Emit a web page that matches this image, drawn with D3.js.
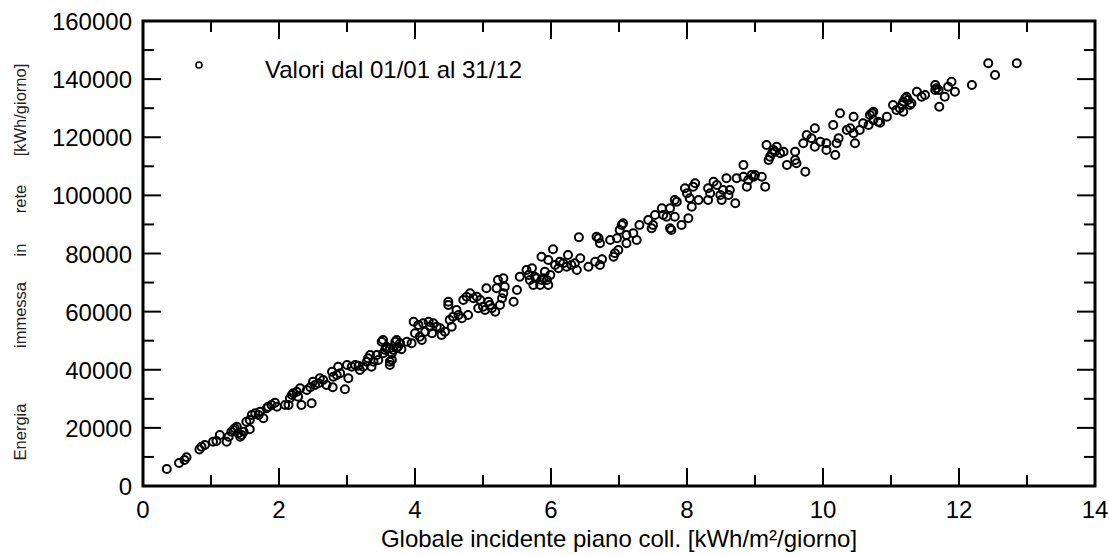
<!DOCTYPE html>
<html>
<head>
<meta charset="utf-8">
<script src="https://cdn.jsdelivr.net/npm/d3@7"></script>
<style>
  body { margin: 0; background: #fff; }
  svg text { font-family: "Liberation Sans", Arial, sans-serif; fill: #000; }
</style>
</head>
<body>
<svg id="chart" width="1109" height="555"></svg>
<script>
// irradiation on collector plane [kWh/m2/day]
const irradiation = [
  0.35, 0.53, 0.61, 0.64, 0.83, 0.86, 0.91, 1.03, 1.08, 1.13,
  1.23, 1.26, 1.30, 1.33, 1.35, 1.38, 1.40, 1.43, 1.45, 1.48,
  1.57, 1.52, 1.57, 1.60, 1.65, 1.70, 1.72, 1.77, 1.82, 1.84,
  1.89, 1.94, 1.97, 2.09, 2.14, 2.16, 2.19, 2.21, 2.26, 2.28,
  2.31, 2.33, 2.41, 2.46, 2.48, 2.50, 2.53, 2.58, 2.60, 2.65,
  2.70, 2.78, 2.80, 2.79, 2.85, 2.87, 2.90, 2.97, 3.00, 3.02,
  3.07, 3.12, 3.17, 3.19, 3.24, 3.29, 3.31, 3.34, 3.36, 3.39,
  3.44, 3.46, 3.51, 3.53, 3.56, 3.58, 3.63, 3.63, 3.66, 3.68,
  3.73, 3.75, 3.53, 3.58, 3.63, 3.66, 3.71, 3.73, 3.78, 3.80,
  3.88, 3.95, 3.98, 4.00, 4.05, 4.07, 4.10, 4.12, 4.15, 4.20,
  4.22, 4.25, 4.27, 4.32, 4.37, 4.39, 4.44, 4.49, 4.49, 4.51,
  4.54, 4.56, 4.61, 4.64, 4.69, 4.71, 4.76, 4.78, 4.81, 4.86,
  4.91, 4.93, 4.96, 5.00, 5.03, 5.05, 5.08, 5.10, 5.13, 5.18,
  5.20, 5.22, 5.25, 5.28, 5.30, 5.32, 5.30, 5.45, 5.50, 5.54,
  5.64, 5.67, 5.69, 5.72, 5.74, 5.76, 5.79, 5.84, 5.86, 5.89,
  5.91, 5.94, 5.96, 5.99, 5.86, 5.96, 6.03, 6.06, 6.11, 6.13,
  6.18, 6.23, 6.25, 6.30, 6.35, 6.38, 6.43, 6.41, 6.55, 6.65,
  6.67, 6.70, 6.72, 6.75, 6.72, 6.87, 6.92, 6.94, 6.97, 6.99,
  7.01, 7.04, 7.06, 7.11, 7.11, 7.21, 7.26, 7.30, 7.43, 7.48,
  7.50, 7.53, 7.63, 7.65, 7.70, 7.75, 7.77, 7.75, 7.82, 7.85,
  7.82, 7.92, 7.97, 8.00, 8.02, 8.04, 8.07, 8.09, 8.12, 8.17,
  8.31, 8.31, 8.34, 8.39, 8.44, 8.49, 8.51, 8.53, 8.58, 8.61,
  8.63, 8.71, 8.73, 8.83, 8.83, 8.88, 8.90, 8.95, 8.98, 9.00,
  9.10, 9.15, 9.17, 9.20, 9.22, 9.25, 9.27, 9.29, 9.32, 9.37,
  9.42, 9.47, 9.59, 9.59, 9.61, 9.71, 9.74, 9.76, 9.83, 9.88,
  9.88, 9.96, 10.05, 10.05, 10.15, 10.18, 10.20, 10.23, 10.25, 10.35,
  10.40, 10.45, 10.45, 10.47, 10.54, 10.59, 10.67, 10.69, 10.74, 10.81,
  10.72, 10.74, 10.84, 10.94, 11.03, 11.08, 11.13, 11.16, 11.18, 11.18,
  11.21, 11.23, 11.25, 11.28, 11.30, 11.38, 11.45, 11.50, 11.65, 11.65,
  11.67, 11.70, 11.71, 11.79, 11.84, 11.89, 11.94, 12.19, 12.43, 12.53,
  12.85
];

// energy fed into the grid [kWh/day]
const energyFed = [
  5850, 7900, 8950, 9870, 12600, 13500, 14100, 15200, 15500, 17550,
  15250, 16970, 18690, 19270, 19850, 20400, 18130, 16970, 17550, 18690,
  19500, 22130, 22710, 24430, 25000, 24430, 25570, 23290, 26740, 27290,
  27870, 28670, 27290, 27870, 27870, 30180, 31310, 31900, 32460, 30730,
  33620, 27870, 33030, 33960, 28460, 35890, 34750, 35340, 37060, 36480,
  34750, 39330, 37610, 33960, 38200, 41050, 38780, 33270, 41640, 37060,
  41050, 41640, 41390, 39920, 41050, 42770, 43940, 45080, 41050, 42770,
  45080, 43360, 49650, 45660, 46800, 47380, 42770, 41640, 45660, 46800,
  50240, 47930, 50240, 47930, 47380, 43360, 49650, 47380, 49100, 47040,
  49650, 49100, 56540, 52540, 55400, 51370, 50240, 55990, 53100, 56540,
  54820, 52540, 55990, 54820, 54260, 51960, 53100, 63420, 62280, 57120,
  54820, 58260, 60560, 58840, 57700, 64000, 65140, 58840, 66310, 64590,
  65140, 61150, 64000, 61700, 60560, 68030, 63420, 62280, 61150, 59980,
  68030, 70880, 62280, 64590, 71470, 68580, 66310, 63420, 67440, 72020,
  74330, 72610, 70880, 74910, 69160, 72020, 71470, 69160, 70880, 71470,
  73740, 70880, 69160, 72610, 78900, 77770, 81450, 76050, 74910, 77180,
  76630, 75460, 79490, 76050, 76630, 74330, 78350, 85580, 75460, 77180,
  85780, 85240, 76050, 78010, 83510, 84650, 78900, 80070, 85240, 81210,
  88090, 89810, 90390, 86370, 83510, 86950, 84650, 89810, 91530, 88670,
  89810, 93250, 95560, 93250, 92670, 88670, 88090, 95560, 98410, 97830,
  92670, 89810, 102440, 100720, 92120, 99000, 96110, 103000, 104160, 98410,
  98410, 102440, 100720, 104710, 103570, 100130, 98410, 101850, 105880, 100130,
  101850, 97280, 105880, 110460, 106430, 103000, 105290, 107020, 106430, 107020,
  106430, 103000, 117340, 112180, 113310, 114480, 115620, 115030, 116760, 114480,
  115030, 110460, 115030, 112180, 111040, 117920, 108150, 120780, 119640, 123090,
  116760, 118470, 117920, 115620, 124220, 113900, 117920, 119640, 128240, 122500,
  123090, 127070, 121360, 117920, 122500, 124800, 124220, 127660, 125940, 125350,
  128240, 128800, 125010, 127070, 131100, 129380, 129970, 131100, 128800, 132240,
  133410, 133960, 132820, 131100, 131690, 135670, 133960, 134540, 137980, 136260,
  136850, 136260, 130520, 133960, 137400, 139120, 135670, 137980, 145450, 141420,
  145450
];

const xTicks = [0, 2, 4, 6, 8, 10, 12, 14];
const yTicks = [0, 20000, 40000, 60000, 80000, 100000, 120000, 140000, 160000];
const xMinorTicks = [1, 3, 5, 7, 9, 11, 13];
const yMinorTicks = [10000, 30000, 50000, 70000, 90000, 110000, 130000, 150000];

const legendLabel = 'Valori dal 01/01 al 31/12';
const xTitle = 'Globale incidente piano coll. [kWh/m²/giorno]';
const yTitleWords = ['Energia', 'immessa', 'in', 'rete', '[kWh/giorno]'];

class scatterChart {

  constructor(_config, _data) {
    this.config = {
      parentElement: _config.parentElement,
      containerWidth: _config.containerWidth || 1109,
      containerHeight: _config.containerHeight || 555,
      margin: _config.margin || {top: 21, right: 14, bottom: 69, left: 143}
    };
    this.data = _data;
    this.initVis();
  }

  initVis() {
    let vis = this;
    vis.width = vis.config.containerWidth - vis.config.margin.left - vis.config.margin.right;
    vis.height = vis.config.containerHeight - vis.config.margin.top - vis.config.margin.bottom;

    vis.svg = d3.select(vis.config.parentElement);
    vis.chart = vis.svg.append('g')
      .attr('transform', `translate(${vis.config.margin.left},${vis.config.margin.top})`);

    vis.xScale = d3.scaleLinear().domain([0, 14]).range([0, vis.width]);
    vis.yScale = d3.scaleLinear().domain([0, 160000]).range([vis.height, 0]);

    vis.renderVis();
  }

  renderVis() {
    let vis = this;
    const major = 18, minor = 11;

    // ticks on all four sides, pointing inwards
    const tickG = vis.chart.append('g').attr('stroke', '#000').attr('stroke-width', 2);
    const xt = xTicks.map(v => [v, major]).concat(xMinorTicks.map(v => [v, minor]));
    const yt = yTicks.map(v => [v, major]).concat(yMinorTicks.map(v => [v, minor]));

    tickG.selectAll('.xb').data(xt).join('line')
      .attr('x1', d => vis.xScale(d[0])).attr('x2', d => vis.xScale(d[0]))
      .attr('y1', vis.height).attr('y2', d => vis.height - d[1]);
    tickG.selectAll('.xt').data(xt).join('line')
      .attr('x1', d => vis.xScale(d[0])).attr('x2', d => vis.xScale(d[0]))
      .attr('y1', 0).attr('y2', d => d[1]);
    tickG.selectAll('.yl').data(yt).join('line')
      .attr('y1', d => vis.yScale(d[0])).attr('y2', d => vis.yScale(d[0]))
      .attr('x1', 0).attr('x2', d => d[1]);
    tickG.selectAll('.yr').data(yt).join('line')
      .attr('y1', d => vis.yScale(d[0])).attr('y2', d => vis.yScale(d[0]))
      .attr('x1', vis.width).attr('x2', d => vis.width - d[1]);

    // frame
    vis.chart.append('rect')
      .attr('width', vis.width).attr('height', vis.height)
      .attr('fill', 'none').attr('stroke', '#000').attr('stroke-width', 3);

    // tick labels
    vis.chart.selectAll('.x-label').data(xTicks).join('text')
      .attr('class', 'x-label')
      .attr('x', d => vis.xScale(d))
      .attr('y', vis.height + 32)
      .attr('text-anchor', 'middle')
      .style('font-size', '24px')
      .text(d => d);

    vis.chart.selectAll('.y-label').data(yTicks).join('text')
      .attr('class', 'y-label')
      .attr('x', -11)
      .attr('y', d => vis.yScale(d) + 9)
      .attr('text-anchor', 'end')
      .style('font-size', '24px')
      .text(d => d);

    // axis titles
    vis.svg.append('text')
      .attr('x', vis.config.margin.left + vis.width / 2)
      .attr('y', 547)
      .attr('text-anchor', 'middle')
      .style('font-size', '24px')
      .text(xTitle);

    // y title words are spread along the axis
    const wordCentres = [432, 315, 250, 199, 110];
    vis.svg.selectAll('.y-title').data(yTitleWords).join('text')
      .attr('class', 'y-title')
      .attr('transform', (d, i) => `translate(26,${wordCentres[i]}) rotate(-90)`)
      .attr('text-anchor', 'middle')
      .style('font-size', '16.5px')
      .style('fill', '#222')
      .text(d => d);

    // points
    vis.chart.append('g').selectAll('circle').data(vis.data).join('circle')
      .attr('cx', d => vis.xScale(d.x))
      .attr('cy', d => vis.yScale(d.y))
      .attr('r', 4)
      .attr('fill', 'none')
      .attr('stroke', '#000')
      .attr('stroke-width', 2);

    // legend
    vis.svg.append('circle')
      .attr('cx', 199).attr('cy', 65).attr('r', 3)
      .attr('fill', 'none').attr('stroke', '#000').attr('stroke-width', 1.6);
    vis.svg.append('text')
      .attr('x', 265).attr('y', 78)
      .style('font-size', '24px')
      .text(legendLabel);
  }
}

const points = irradiation.map((x, i) => ({x: x, y: energyFed[i]}));
new scatterChart({parentElement: '#chart'}, points);
</script>
</body>
</html>
